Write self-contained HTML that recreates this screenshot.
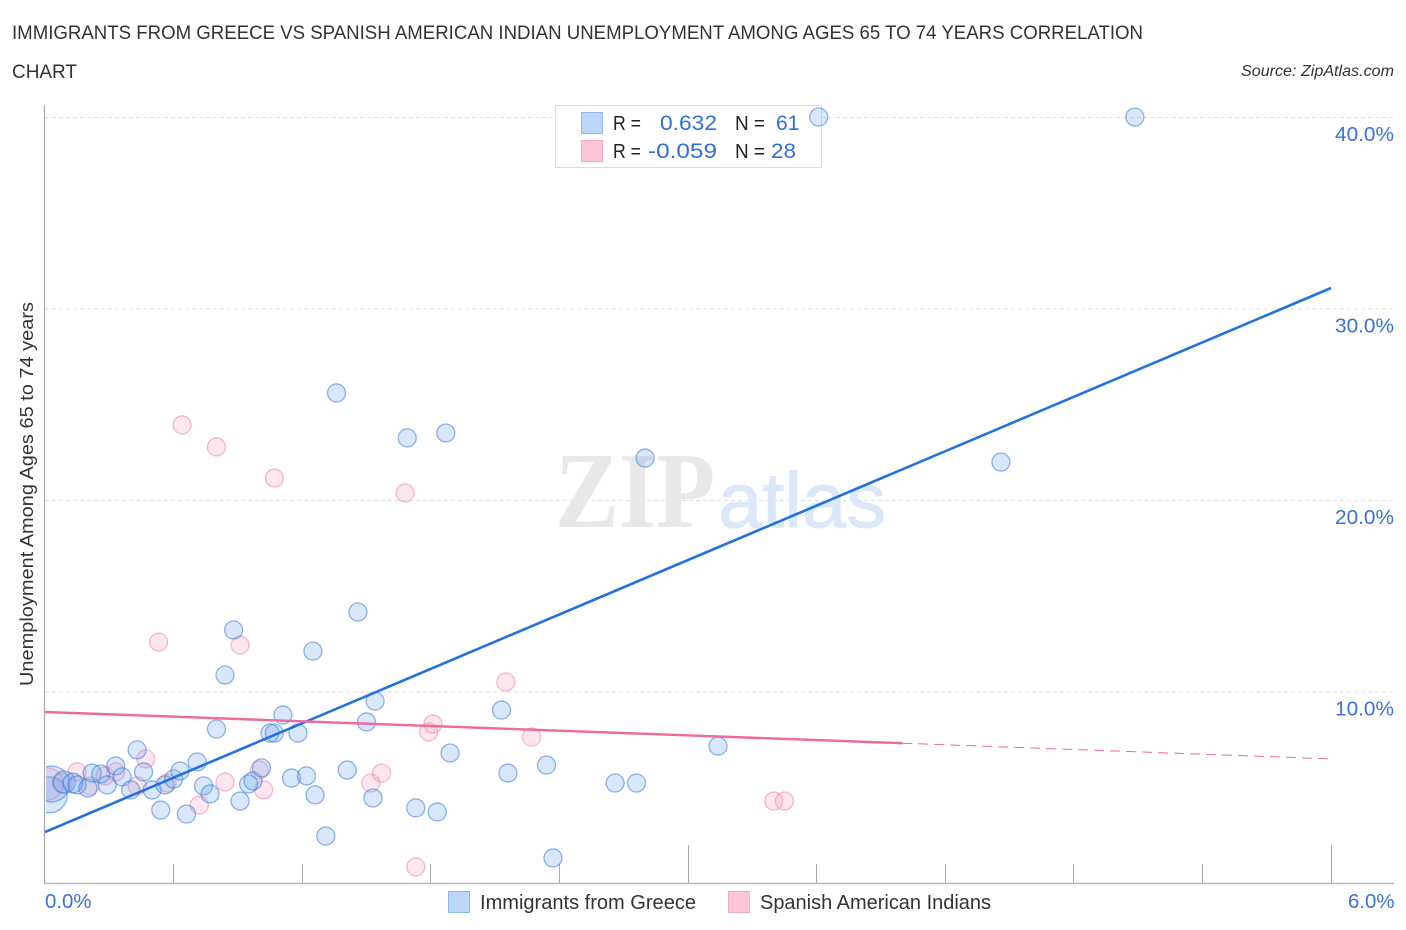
<!DOCTYPE html>
<html lang="en">
<head>
<meta charset="utf-8">
<title>Immigrants from Greece vs Spanish American Indian Unemployment Correlation Chart</title>
<style>
  html, body { margin: 0; padding: 0; background: #ffffff; }
  svg { display: block; font-family: "Liberation Sans", sans-serif; }
</style>
</head>
<body>
<svg id="chart" xmlns="http://www.w3.org/2000/svg" width="1406" height="930" viewBox="0 0 1406 930">
  <defs>
    <clipPath id="plot-clip"><rect x="46" y="100" width="1350" height="783"/></clipPath>
  </defs>
  <rect x="0" y="0" width="1406" height="930" fill="#ffffff"/>
  <text x="12" y="39" font-size="19.5" fill="#333333" textLength="1131" lengthAdjust="spacingAndGlyphs">IMMIGRANTS FROM GREECE VS SPANISH AMERICAN INDIAN UNEMPLOYMENT AMONG AGES 65 TO 74 YEARS CORRELATION</text>
  <text x="12" y="78" font-size="19.5" fill="#333333" textLength="65" lengthAdjust="spacingAndGlyphs">CHART</text>
  <text x="1241" y="76" font-size="15.5" font-style="italic" fill="#333333" textLength="153" lengthAdjust="spacingAndGlyphs">Source: ZipAtlas.com</text>

  <g id="grid"></g>

  <text x="555" y="527" font-family="'Liberation Serif', serif" font-weight="bold" font-size="108" fill="#e8e8e8" textLength="160" lengthAdjust="spacingAndGlyphs">ZIP</text>
  <text x="718" y="527" font-size="78" fill="#dce8f9" stroke="#dce8f9" stroke-width="1" textLength="168" lengthAdjust="spacingAndGlyphs">atlas</text>

  <g id="axes">
    <line x1="44.5" y1="105" x2="44.5" y2="883.5" stroke="#aaaaaa" stroke-width="1.2"/>
    <line x1="44" y1="883.5" x2="1394" y2="883.5" stroke="#bbbbbb" stroke-width="1.4"/>
  </g>
  <g id="x-ticks"></g>
  <g id="y-labels"></g>
  <g id="x-labels"></g>

  <text transform="translate(33,686) rotate(-90)" x="0" y="0" font-size="18.5" fill="#333333" textLength="384" lengthAdjust="spacingAndGlyphs">Unemployment Among Ages 65 to 74 years</text>

  <g>
    <rect x="555.5" y="105.5" width="266" height="62" fill="#ffffff" stroke="#dddddd" stroke-width="1"/>
    <rect x="581.5" y="112.5" width="21" height="21" fill="#bcd5f8" stroke="#8fb6ea" stroke-width="1"/>
    <rect x="581.5" y="140.5" width="21" height="21" fill="#fcc6d8" stroke="#f3a9c2" stroke-width="1"/>
    <text x="613" y="130" font-size="20" fill="#222222" textLength="28" lengthAdjust="spacingAndGlyphs">R =</text>
    <text x="660" y="130" font-size="21" fill="#2f6fd6" textLength="57" lengthAdjust="spacingAndGlyphs">0.632</text>
    <text x="735" y="130" font-size="20" fill="#222222" textLength="30" lengthAdjust="spacingAndGlyphs">N =</text>
    <text x="776" y="130" font-size="21" fill="#2f6fd6">61</text>
    <text x="613" y="158" font-size="20" fill="#222222" textLength="28" lengthAdjust="spacingAndGlyphs">R =</text>
    <text x="648" y="158" font-size="21" fill="#2f6fd6" textLength="69" lengthAdjust="spacingAndGlyphs">-0.059</text>
    <text x="735" y="158" font-size="20" fill="#222222" textLength="30" lengthAdjust="spacingAndGlyphs">N =</text>
    <text x="771" y="158" font-size="21" fill="#2f6fd6" textLength="25" lengthAdjust="spacingAndGlyphs">28</text>
  </g>

  <g id="points-spanish" clip-path="url(#plot-clip)"></g>
  <g id="points-greece" clip-path="url(#plot-clip)"></g>
  <g id="trend-lines"></g>

  <g>
    <rect x="448.5" y="891.5" width="21" height="21" fill="#bcd5f8" stroke="#8fb6ea" stroke-width="1"/>
    <text x="480" y="909" font-size="20" fill="#333333" textLength="216" lengthAdjust="spacingAndGlyphs">Immigrants from Greece</text>
    <rect x="728.5" y="891.5" width="21" height="21" fill="#fcc6d8" stroke="#f3a9c2" stroke-width="1"/>
    <text x="760" y="909" font-size="20" fill="#333333" textLength="231" lengthAdjust="spacingAndGlyphs">Spanish American Indians</text>
  </g>
</svg>

<script>
// Chart data: x = Immigrants from Greece share (%), y = unemployment rate (%)
const greeceX = [0.02,0.03,0.09,0.13,0.15,0.20,0.22,0.26,0.29,0.33,0.36,0.40,0.43,0.46,0.50,0.54,0.56,0.60,0.63,0.66,0.71,0.74,0.77,0.80,0.91,0.95,0.97,1.01,1.05,1.07,1.11,1.15,1.18,1.22,1.26,1.31,1.41,3.61,5.085,1.36,1.69,1.87,2.80,4.46,1.46,0.88,1.25,0.84,1.54,2.13,1.50,3.14,1.89,2.34,2.16,2.66,2.76,1.53,1.73,1.83,2.37];
const greeceY = [4.60,5.17,5.27,5.22,5.12,4.96,5.74,5.69,5.12,6.11,5.54,4.86,6.95,5.80,4.86,3.81,5.12,5.43,5.85,3.60,6.32,5.07,4.65,8.04,4.28,5.17,5.33,6.01,7.83,7.83,8.77,5.48,7.83,5.59,4.60,2.45,5.90,40.0,40.0,25.59,23.24,23.50,22.19,21.98,14.15,13.21,12.11,10.86,9.50,9.03,8.41,7.15,6.79,6.16,5.74,5.22,5.22,4.44,3.92,3.71,1.31];
const greeceWeight = [4,4,1.5,1.2,1,1,1,1,1,1,1,1,1,1,1,1,1,1,1,1,1,1,1,1,1,1,1,1,1,1,1,1,1,1,1,1,1,1,1,1,1,1,1,1,1,1,1,1,1,1,1,1,1,1,1,1,1,1,1,1,1];
const spanishX = [0.01,0.08,0.15,0.21,0.28,0.33,0.43,0.47,0.57,0.72,0.84,1.00,1.02,0.64,0.80,1.07,1.68,0.53,0.91,2.15,1.81,1.79,2.27,1.57,1.52,3.40,3.45,1.73];
const spanishY = [5.17,5.22,5.80,5.07,5.59,5.80,5.07,6.48,5.22,4.07,5.27,5.90,4.86,23.92,22.77,21.15,20.37,12.58,12.43,10.50,8.30,7.89,7.62,5.74,5.22,4.28,4.28,0.84];
const spanishWeight = [3.2,1.2,1,1,1,1,1,1,1,1,1,1,1,1,1,1,1,1,1,1,1,1,1,1,1,1,1,1];

// Trend lines [x start, x end] and [y start, y end]
const greeceTrendX = [0, 6];
const greeceTrendY = [2.66, 31.07];
const spanishTrendX = [0, 4];
const spanishTrendY = [8.93, 7.30];
const spanishForecastX = [4, 6];
const spanishForecastY = [7.30, 6.48];

// Axis ticks
const yTicks = [10, 20, 30, 40];
const yTickLabels = ["10.0%", "20.0%", "30.0%", "40.0%"];
const xTicks = [0.6, 1.2, 1.8, 2.4, 3.0, 3.6, 4.2, 4.8, 5.4, 6.0];
const xMajorTicks = [3.0, 6.0];
const xEdgeValues = [0, 6];
const xEdgeLabels = ["0.0%", "6.0%"];

// Axis functions
const xScale = function (v) { return 45 + v * (1286 / 6); };
const yScale = function (v) { return 883 - v * (766 / 40); };

const SVGNS = 'http://www.w3.org/2000/svg';
function make(tag, parentId) {
  const el = document.createElementNS(SVGNS, tag);
  document.getElementById(parentId).appendChild(el);
  return el;
}

// Gridlines and right-hand labels
yTicks.forEach(function (t, i) {
  const g = make('line', 'grid');
  
  
  g.setAttribute('x1', 45);
  g.setAttribute('x2', 1394);
  g.setAttribute('y1', yScale(t) + 0.5);
  g.setAttribute('y2', yScale(t) + 0.5);
  g.setAttribute('stroke', '#e0e0e0');
  g.setAttribute('stroke-width', '1');
  g.setAttribute('stroke-dasharray', '4 3');

  const lab = make('text', 'y-labels');
  
  
  lab.setAttribute('x', 1335);
  lab.setAttribute('y', yScale(t) + 24);
  lab.setAttribute('font-size', '20');
  lab.setAttribute('fill', '#3b72d4');
  lab.setAttribute('textLength', '59');
  lab.setAttribute('lengthAdjust', 'spacingAndGlyphs');
  lab.textContent = yTickLabels[i];
});

// X ticks
xTicks.forEach(function (t) {
  const major = xMajorTicks.indexOf(t) >= 0;
  const tk = make('line', 'x-ticks');
  
  
  tk.setAttribute('x1', Math.floor(xScale(t)) + 0.5);
  tk.setAttribute('x2', Math.floor(xScale(t)) + 0.5);
  tk.setAttribute('y1', major ? 845 : 864);
  tk.setAttribute('y2', 883);
  tk.setAttribute('stroke', '#aaaaaa');
  tk.setAttribute('stroke-width', '1');
});

// X edge labels
xEdgeValues.forEach(function (v, i) {
  const lab = make('text', 'x-labels');
  
  
  lab.setAttribute('x', i === 0 ? xScale(v) : 1348);
  lab.setAttribute('y', 908);
  lab.setAttribute('font-size', '20');
  lab.setAttribute('fill', '#3b72d4');
  lab.setAttribute('textLength', '46.5');
  lab.setAttribute('lengthAdjust', 'spacingAndGlyphs');
  lab.textContent = xEdgeLabels[i];
});

// Points
function radius(w) { return 9 * Math.sqrt(w); }

spanishX.forEach(function (v, i) {
  const c = make('circle', 'points-spanish');
  
  
  c.setAttribute('cx', xScale(v));
  c.setAttribute('cy', yScale(spanishY[i]));
  c.setAttribute('r', radius(spanishWeight[i]));
  c.setAttribute('fill', 'rgba(248,150,185,0.24)');
  c.setAttribute('stroke', 'rgba(238,130,170,0.55)');
  c.setAttribute('stroke-width', '1.3');
});

greeceX.forEach(function (v, i) {
  const c = make('circle', 'points-greece');
  
  
  c.setAttribute('cx', xScale(v));
  c.setAttribute('cy', yScale(greeceY[i]));
  c.setAttribute('r', radius(greeceWeight[i]));
  c.setAttribute('fill', 'rgba(110,165,240,0.27)');
  c.setAttribute('stroke', 'rgba(55,120,215,0.55)');
  c.setAttribute('stroke-width', '1.3');
});

// Trend lines
const greeceLine = make('line', 'trend-lines');


greeceLine.setAttribute('x1', xScale(greeceTrendX[0]));
greeceLine.setAttribute('y1', yScale(greeceTrendY[0]));
greeceLine.setAttribute('x2', xScale(greeceTrendX[1]));
greeceLine.setAttribute('y2', yScale(greeceTrendY[1]));
greeceLine.setAttribute('stroke', '#2272dc');
greeceLine.setAttribute('stroke-width', '2.6');

const spanishLine = make('line', 'trend-lines');


spanishLine.setAttribute('x1', xScale(spanishTrendX[0]));
spanishLine.setAttribute('y1', yScale(spanishTrendY[0]));
spanishLine.setAttribute('x2', xScale(spanishTrendX[1]));
spanishLine.setAttribute('y2', yScale(spanishTrendY[1]));
spanishLine.setAttribute('stroke', '#ee6a9c');
spanishLine.setAttribute('stroke-width', '2.4');

const spanishDash = make('line', 'trend-lines');


spanishDash.setAttribute('x1', xScale(spanishForecastX[0]));
spanishDash.setAttribute('y1', yScale(spanishForecastY[0]));
spanishDash.setAttribute('x2', xScale(spanishForecastX[1]));
spanishDash.setAttribute('y2', yScale(spanishForecastY[1]));
spanishDash.setAttribute('stroke', '#ee6a9c');
spanishDash.setAttribute('stroke-width', '1');
spanishDash.setAttribute('stroke-dasharray', '10 6');
</script>
</body>
</html>
